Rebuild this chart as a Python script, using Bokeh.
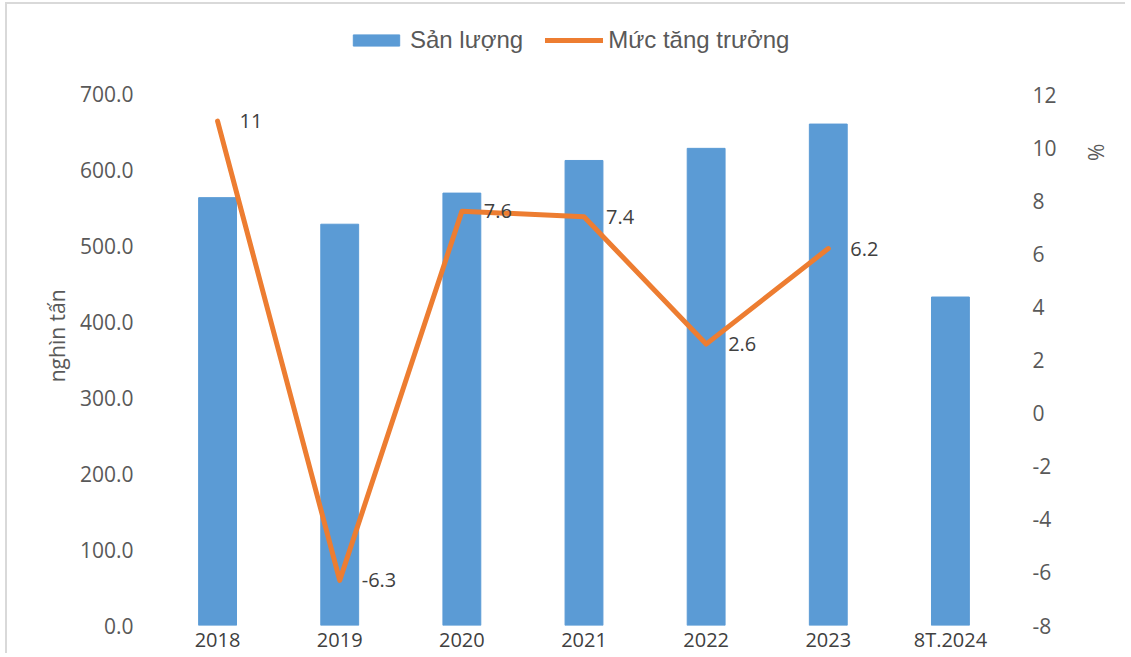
import math
from bokeh.plotting import figure
from bokeh.models import (Range1d, LinearAxis, FixedTicker, NumeralTickFormatter,
                          ColumnDataSource, LabelSet, Legend, LegendItem, FactorRange)
from bokeh.core.properties import value
from bokeh.embed import file_html
from bokeh.resources import INLINE

# ---- data ----
categories = ["2018", "2019", "2020", "2021", "2022", "2023", "8T.2024"]
san_luong = [564, 529, 570, 613, 629, 661, 433]          # nghìn tấn
growth_categories = ["2018", "2019", "2020", "2021", "2022", "2023"]
muc_tang_truong = [11, -6.3, 7.6, 7.4, 2.6, 6.2]         # %
growth_labels = ["11", "-6.3", "7.6", "7.4", "2.6", "6.2"]
left_ticks = [0, 100, 200, 300, 400, 500, 600, 700]
right_ticks = [-8, -6, -4, -2, 0, 2, 4, 6, 8, 10, 12]
left_unit = "nghìn tấn"
right_unit = "%"

BLUE = "#5B9BD5"
ORANGE = "#ED7D31"
TICK = "#595959"
DARK = "#404040"
FONT = "Open Sans"

# frame extends above the axis maxima to leave room for the legend (as in the reference)
LEFT_MAX_VIEW = 802.8
RIGHT_MAX_VIEW = 14.94

p = figure(x_range=FactorRange(*categories), y_range=Range1d(0, LEFT_MAX_VIEW),
           width=1120, height=651, output_backend="svg", toolbar_location=None,
           min_border_left=149, min_border_right=115, min_border_top=12, min_border_bottom=21,
           styles={"border-top": "2px solid #d9d9d9", "border-left": "2px solid #d9d9d9",
                   "margin-left": "5px", "margin-top": "2px"})
p.extra_y_ranges = {"pct": Range1d(-8, RIGHT_MAX_VIEW)}
p.outline_line_color = None
p.xgrid.grid_line_color = None
p.ygrid.grid_line_color = None

bars = p.vbar(x=categories, top=san_luong, width=0.31, color=BLUE, line_color=BLUE)
line = p.line(x=growth_categories, y=muc_tang_truong, y_range_name="pct",
              line_width=5, line_color=ORANGE, line_join="round", line_cap="round")

src = ColumnDataSource(dict(x=growth_categories, y=muc_tang_truong, t=growth_labels))
p.add_layout(LabelSet(x="x", y="y", text="t", source=src, y_range_name="pct",
                      x_offset=22, text_baseline="middle", text_align="left",
                      text_font=value(FONT), text_font_size=value("20px"), text_color=DARK))

def style_axis(ax, size="21px", color=TICK, standoff=20):
    ax.axis_line_color = None
    ax.major_tick_line_color = None
    ax.minor_tick_line_color = None
    ax.major_tick_out = 0
    ax.major_tick_in = 0
    ax.major_label_standoff = standoff
    ax.major_label_text_font = FONT
    ax.major_label_text_font_size = size
    ax.major_label_text_color = color

# left axis
ya = p.yaxis[0]
ya.ticker = FixedTicker(ticks=left_ticks)
ya.formatter = NumeralTickFormatter(format="0.0")
style_axis(ya, standoff=23)

# left unit label "nghìn tấn" (rotated, placed like the reference)
la = LinearAxis(ticker=FixedTicker(ticks=[443]), major_label_overrides={443: left_unit},
                major_label_orientation=math.pi / 2)
style_axis(la, standoff=19)
p.add_layout(la, "left")

# right axis
ra = LinearAxis(y_range_name="pct", ticker=FixedTicker(ticks=right_ticks),
                formatter=NumeralTickFormatter(format="0"))
style_axis(ra, standoff=21)
p.add_layout(ra, "right")

# "%" unit, shown near the top of the right axis
ua = LinearAxis(y_range_name="pct", ticker=FixedTicker(ticks=[9.5]),
                major_label_overrides={9.5: right_unit},
                major_label_orientation=math.pi / 2)
style_axis(ua, standoff=37)
p.add_layout(ua, "right")

# x axis
xa = p.xaxis[0]
style_axis(xa, size="20px", color=DARK, standoff=0)

legend = Legend(items=[LegendItem(label="Sản lượng", renderers=[bars]),
                       LegendItem(label="Mức tăng trưởng", renderers=[line])],
                orientation="horizontal", location=(191, 571),
                border_line_color=None, background_fill_alpha=0,
                label_text_font="Liberation Sans", label_text_font_size="24px",
                label_text_color=TICK, glyph_width=58, glyph_height=14,
                label_standoff=5, spacing=22, padding=0, margin=0)
p.add_layout(legend, "center")

open("out.html", "w").write(file_html(p, INLINE))
